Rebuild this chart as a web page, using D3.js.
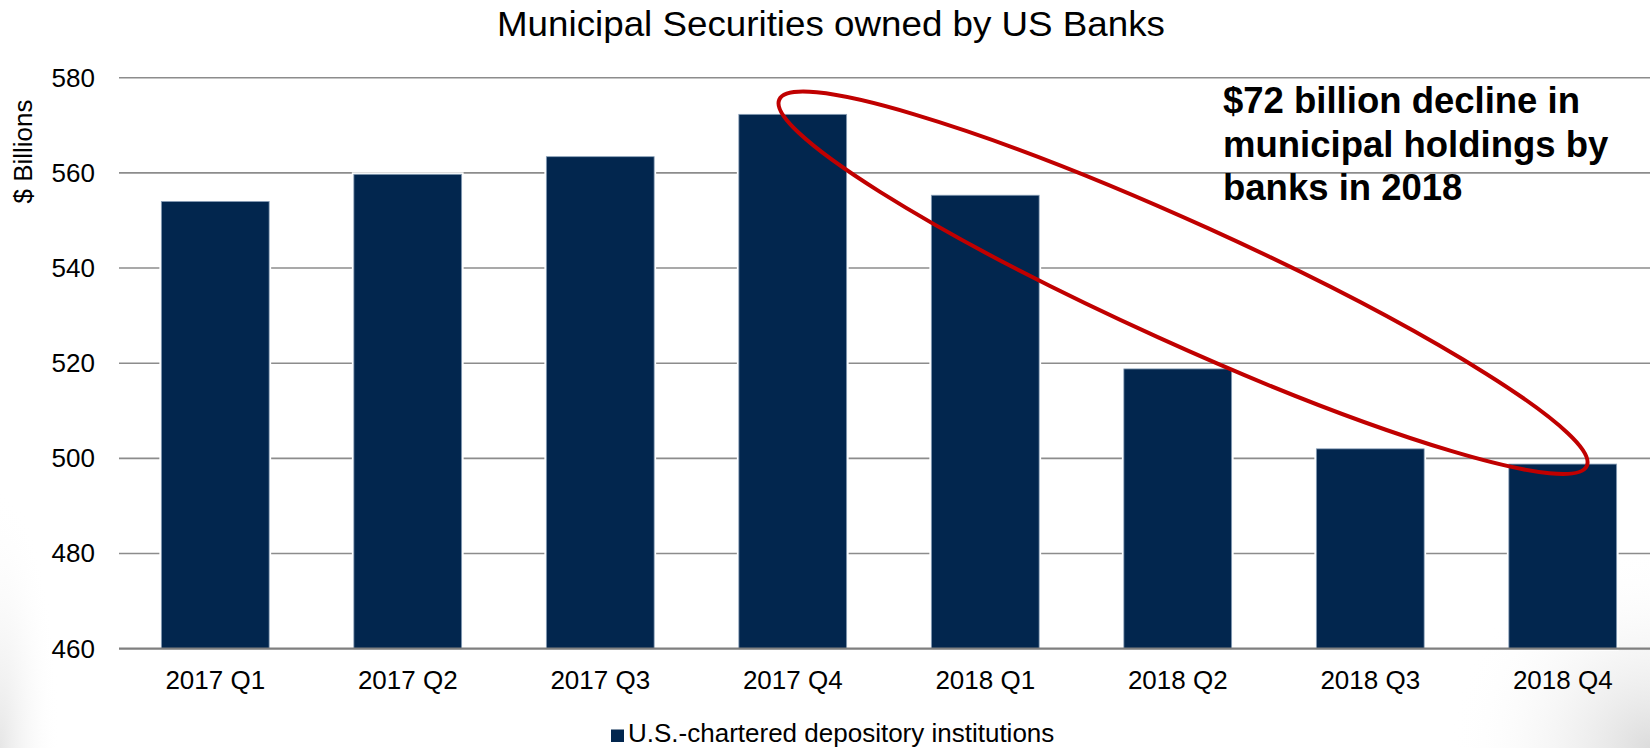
<!DOCTYPE html>
<html>
<head>
<meta charset="utf-8">
<script src="https://cdn.jsdelivr.net/npm/d3@7"></script>
<style>
  html, body { margin: 0; padding: 0; background: #fff; }
  svg { display: block; font-family: "Liberation Sans", Arial, sans-serif; }
</style>
</head>
<body>
<svg id="chart" width="1650" height="748"></svg>
<script>
// ---- data ----
const categories = ["2017 Q1", "2017 Q2", "2017 Q3", "2017 Q4", "2018 Q1", "2018 Q2", "2018 Q3", "2018 Q4"];
const values = [554.0, 559.7, 563.4, 572.3, 555.3, 518.8, 502.0, 498.8];
const yTicks = [460, 480, 500, 520, 540, 560, 580];
const seriesName = "U.S.-chartered depository institutions";
const titleText = "Municipal Securities owned by US Banks";
const yAxisLabel = "$ Billions";
const annotationLines = ["$72 billion decline in", "municipal holdings by", "banks in 2018"];
// ellipse annotation anchors: [category, value, offset as fraction of band step]
const ellipseStart = ["2017 Q4", 575.4, -0.07];
const ellipseEnd = ["2018 Q4", 498.4, 0.125];

// ---- layout ----
const W = 1650, H = 748;
const svg = d3.select("#chart");

const x = d3.scaleBand()
  .domain(categories)
  .range([119, 1659])
  .paddingInner(0.44)
  .paddingOuter(0.22);

const y = d3.scaleLinear()
  .domain([460, 580])
  .range([648.7, 77.7]);

// background corner shading
const defs = svg.append("defs");
const g1 = defs.append("radialGradient").attr("id", "shadeR")
  .attr("cx", "100%").attr("cy", "100%").attr("r", "100%");
g1.append("stop").attr("offset", "0%").attr("stop-color", "#dcdcdc");
g1.append("stop").attr("offset", "100%").attr("stop-color", "#ffffff").attr("stop-opacity", 0);
svg.append("rect").attr("x", W - 200).attr("y", H - 200).attr("width", 200).attr("height", 200)
  .attr("fill", "url(#shadeR)");
const g2 = defs.append("radialGradient").attr("id", "shadeL")
  .attr("cx", "0%").attr("cy", "100%").attr("r", "100%");
g2.append("stop").attr("offset", "0%").attr("stop-color", "#e6e6e6");
g2.append("stop").attr("offset", "100%").attr("stop-color", "#ffffff").attr("stop-opacity", 0);
svg.append("rect").attr("x", 0).attr("y", H - 260).attr("width", 60).attr("height", 260)
  .attr("fill", "url(#shadeL)");

// title
svg.append("text")
  .attr("x", 831).attr("y", 36)
  .attr("text-anchor", "middle")
  .attr("font-size", 35)
  .attr("textLength", 668)
  .attr("lengthAdjust", "spacingAndGlyphs")
  .attr("fill", "#000")
  .text(titleText);

// y axis tick labels
const yAxis = d3.axisLeft(y).tickValues(yTicks).tickSize(0).tickPadding(24);
const yg = svg.append("g").attr("transform", "translate(119,0)").call(yAxis);
yg.select(".domain").remove();
yg.selectAll("text").attr("font-size", 26).attr("fill", "#000")
  .attr("font-family", "'Liberation Sans', Arial, sans-serif");

// gridlines
svg.append("g").selectAll("line")
  .data(yTicks.filter(t => t !== 460))
  .join("line")
  .attr("x1", 119).attr("x2", W)
  .attr("y1", d => y(d)).attr("y2", d => y(d))
  .attr("stroke", "#8c8c8c").attr("stroke-width", 1.6);

// bars: white backdrop to break gridlines, then bar
const bars = svg.append("g");
bars.selectAll("rect.bg")
  .data(values)
  .join("rect")
  .attr("class", "bg")
  .attr("x", (d, i) => x(categories[i]))
  .attr("width", x.bandwidth())
  .attr("y", d => y(d))
  .attr("height", d => y(460) - y(d))
  .attr("fill", "#fff").attr("stroke", "#fff").attr("stroke-width", 4);
bars.selectAll("rect.bar")
  .data(values)
  .join("rect")
  .attr("class", "bar")
  .attr("x", (d, i) => x(categories[i]))
  .attr("width", x.bandwidth())
  .attr("y", d => y(d))
  .attr("height", d => y(460) - y(d))
  .attr("fill", "#02264e").attr("stroke", "#8aa0b8").attr("stroke-width", 0.8);

// baseline
svg.append("line")
  .attr("x1", 119).attr("x2", W)
  .attr("y1", y(460)).attr("y2", y(460))
  .attr("stroke", "#7f7f7f").attr("stroke-width", 2.2);

// x axis labels
const xAxis = d3.axisBottom(x).tickSize(0).tickPadding(22);
const xg = svg.append("g").attr("transform", `translate(0,${y(460)})`).call(xAxis);
xg.select(".domain").remove();
xg.selectAll("text").attr("font-size", 26).attr("fill", "#000")
  .attr("font-family", "'Liberation Sans', Arial, sans-serif");

// y axis title
svg.append("text")
  .attr("transform", "translate(32,151.5) rotate(-90)")
  .attr("text-anchor", "middle")
  .attr("font-size", 26)
  .attr("fill", "#000")
  .text(yAxisLabel);

// annotation text
const ann = svg.append("text")
  .attr("x", 1223).attr("y", 113)
  .attr("font-size", 36.5).attr("font-weight", "bold").attr("fill", "#000");
ann.selectAll("tspan").data(annotationLines).join("tspan")
  .attr("x", 1223)
  .attr("dy", (d, i) => i === 0 ? 0 : 43.5)
  .text(d => d);

// ellipse annotation
const step = x.step();
const p1 = [x(ellipseStart[0]) + x.bandwidth() / 2 + ellipseStart[2] * step, y(ellipseStart[1])];
const p2 = [x(ellipseEnd[0]) + x.bandwidth() / 2 + ellipseEnd[2] * step, y(ellipseEnd[1])];
const cx = (p1[0] + p2[0]) / 2, cy = (p1[1] + p2[1]) / 2;
const rx = Math.hypot(p2[0] - p1[0], p2[1] - p1[1]) / 2;
const ang = Math.atan2(p2[1] - p1[1], p2[0] - p1[0]) * 180 / Math.PI;
svg.append("ellipse")
  .attr("cx", cx).attr("cy", cy)
  .attr("rx", rx).attr("ry", 60)
  .attr("transform", `rotate(${ang},${cx},${cy})`)
  .attr("fill", "none").attr("stroke", "#c00000").attr("stroke-width", 4);

// legend
const lg = svg.append("g");
lg.append("rect").attr("x", 611).attr("y", 729.5).attr("width", 13).attr("height", 12.5).attr("fill", "#02264e");
lg.append("text").attr("x", 628).attr("y", 741.7).attr("font-size", 26).attr("fill", "#000").text(seriesName);
</script>
</body>
</html>
